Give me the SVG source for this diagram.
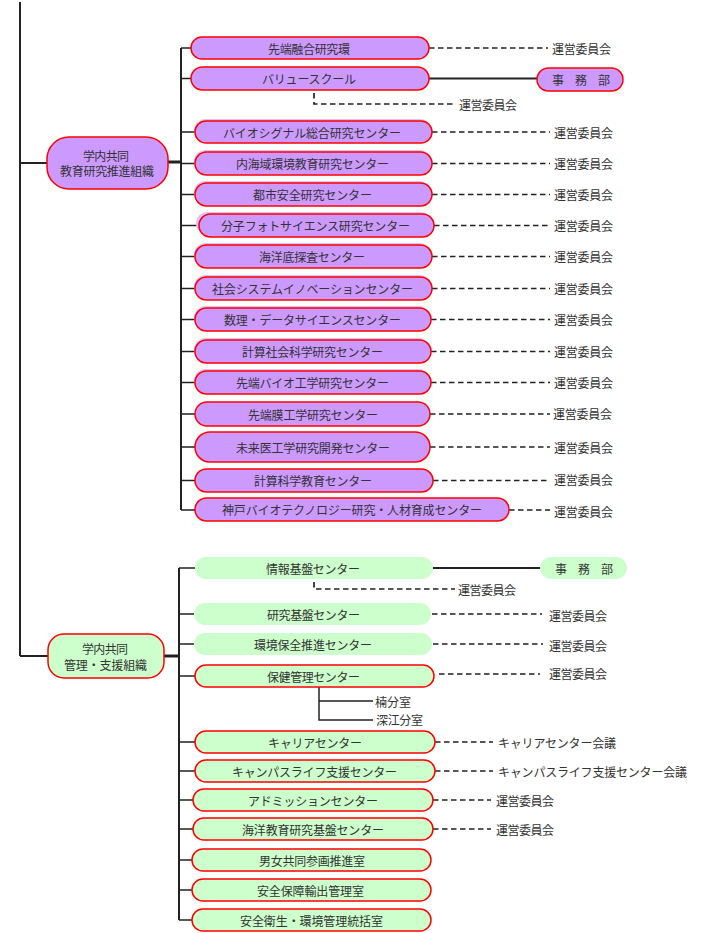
<svg xmlns="http://www.w3.org/2000/svg" width="710" height="933" viewBox="0 0 710 933">
<style>
.p{fill:#cc99ff;stroke:#ff0000;stroke-width:1.5}
.g{fill:#ccffcc;stroke:#ff0000;stroke-width:1.5}
.gn{fill:#ccffcc}
.sh{fill:#d9c2ff}
.t{font-family:"Noto Sans CJK JP","Noto Sans CJK SC",sans-serif;font-size:12px;fill:#333;text-anchor:middle;dominant-baseline:central}
.l{font-family:"Noto Sans CJK JP","Noto Sans CJK SC",sans-serif;font-size:12px;fill:#333;text-anchor:start;dominant-baseline:central}
.ln{stroke:#222;stroke-width:2;fill:none}
.tk{stroke:#222;stroke-width:1.5;fill:none}
.th{stroke:#222;stroke-width:3;fill:none}
.dl{stroke:#222;stroke-width:1.7;stroke-dasharray:5.5 3.5;fill:none}
</style>
<rect width="710" height="933" fill="#ffffff"/>
<g id="connectors">
<path class="ln" d="M20 2V656M20 163H47M20 656H48"/>
<path class="th" d="M168 162H181M164 656H179"/>
<path class="ln" d="M181 48V510M179 568V920"/>
<path class="tk" d="M181 48H191M181 78.5H191M181 132H195M181 163.5H195M181 194.5H195M181 225.5H199M181 256.5H195M181 288.5H195M181 319.5H195M181 351.5H195M181 382.5H195M181 414H195M181 447H195M181 480.5H195M181 510H195"/>
<path class="tk" d="M179 568H195M179 614H194M179 644H194M179 676H195M179 742H195M179 771H195M179 800H193M179 829H193M179 860H192M179 890H192M179 920H192"/>
<path class="ln" d="M429 78.5H537M433 568H540"/>
<path class="tk" d="M319 687V720H373M319 701H373"/>
<path class="dl" d="M429 48H548M314 93V104H455M432 132H550M432 163.5H550M432 194.5H550M434 225.5H550M432 256.5H550M432 288.5H550M431 319.5H550M431 351.5H550M431 382.5H550M430 414H550M430 447H550M433 480.5H550M509 510H550"/>
<path class="dl" d="M314 582V589H455M432 614H542M433 644H543M439 674H540M435 742H493M435 771H493M433 800H491M433 829H491"/>
</g>
<g id="org1">
<rect class="p" x="47" y="137" width="121" height="52" rx="22"/>
<text class="t" x="106" y="155" textLength="46">学内共同</text>
<text class="t" x="107" y="170.5" textLength="94">教育研究推進組織</text>
</g>
<g id="n1"><rect class="p" x="191" y="37" width="238" height="22" rx="11"/><text class="t" x="309" y="48" textLength="82">先端融合研究環</text></g>
<g id="n2"><rect class="p" x="191" y="67" width="238" height="23" rx="11.5"/><text class="t" x="309" y="78.5" textLength="94">バリュースクール</text></g>
<g id="n2a"><rect class="p" x="537" y="68" width="86" height="23" rx="11.5"/><text class="t" x="581" y="79.5" textLength="58">事 務 部</text></g>
<g id="n3"><rect class="sh" x="194" y="119" width="237" height="23" rx="11.5"/><rect class="p" x="195" y="121" width="237" height="22" rx="11"/><text class="t" x="312" y="132" textLength="178">バイオシグナル総合研究センター</text></g>
<g id="n4"><rect class="sh" x="194" y="150" width="237" height="23" rx="11.5"/><rect class="p" x="195" y="152" width="237" height="23" rx="11.5"/><text class="t" x="312.5" y="163.5" textLength="153">内海域環境教育研究センター</text></g>
<g id="n5"><rect class="sh" x="194" y="181" width="237" height="23" rx="11.5"/><rect class="p" x="195" y="183" width="237" height="23" rx="11.5"/><text class="t" x="312.5" y="194.5" textLength="119">都市安全研究センター</text></g>
<g id="n6"><rect class="sh" x="196" y="212" width="236" height="23" rx="11.5"/><rect class="p" x="199" y="214" width="235" height="23" rx="11.5"/><text class="t" x="315.5" y="225.5" textLength="189">分子フォトサイエンス研究センター</text></g>
<g id="n7"><rect class="sh" x="194" y="243" width="237" height="23" rx="11.5"/><rect class="p" x="195" y="245" width="237" height="23" rx="11.5"/><text class="t" x="312" y="256.5" textLength="106">海洋底探査センター</text></g>
<g id="n8"><rect class="sh" x="194" y="275" width="237" height="23" rx="11.5"/><rect class="p" x="195" y="277" width="237" height="23" rx="11.5"/><text class="t" x="312.5" y="288.5" textLength="201">社会システムイノベーションセンター</text></g>
<g id="n9"><rect class="sh" x="194" y="306" width="236" height="23" rx="11.5"/><rect class="p" x="195" y="308" width="236" height="23" rx="11.5"/><text class="t" x="312.5" y="319.5" textLength="177">数理・データサイエンスセンター</text></g>
<g id="n10"><rect class="sh" x="194" y="338" width="236" height="23" rx="11.5"/><rect class="p" x="195" y="340" width="236" height="23" rx="11.5"/><text class="t" x="312.5" y="351.5" textLength="141">計算社会科学研究センター</text></g>
<g id="n11"><rect class="sh" x="194" y="369" width="236" height="23" rx="11.5"/><rect class="p" x="195" y="371" width="236" height="23" rx="11.5"/><text class="t" x="312.5" y="382.5" textLength="153">先端バイオ工学研究センター</text></g>
<g id="n12"><rect class="p" x="195" y="402" width="235" height="24" rx="12"/><text class="t" x="313" y="414" textLength="130">先端膜工学研究センター</text></g>
<g id="n13"><rect class="p" x="195" y="432" width="235" height="30" rx="15"/><text class="t" x="313" y="447" textLength="154">未来医工学研究開発センター</text></g>
<g id="n14"><rect class="p" x="195" y="469" width="238" height="23" rx="11.5"/><text class="t" x="313" y="480.5" textLength="118">計算科学教育センター</text></g>
<g id="n15"><rect class="p" x="195" y="498" width="314" height="23" rx="11.5"/><text class="t" x="352" y="509.5" textLength="260">神戸バイオテクノロジー研究・人材育成センター</text></g>
<g id="labels1">
<text class="l" x="552" y="48" textLength="59">運営委員会</text>
<text class="l" x="459" y="104" textLength="58">運営委員会</text>
<text class="l" x="554" y="132" textLength="59">運営委員会</text>
<text class="l" x="554" y="163.5" textLength="59">運営委員会</text>
<text class="l" x="554" y="194.5" textLength="59">運営委員会</text>
<text class="l" x="554" y="225.5" textLength="59">運営委員会</text>
<text class="l" x="554" y="256.5" textLength="59">運営委員会</text>
<text class="l" x="554" y="288.5" textLength="59">運営委員会</text>
<text class="l" x="554" y="319.5" textLength="59">運営委員会</text>
<text class="l" x="554" y="351.5" textLength="59">運営委員会</text>
<text class="l" x="554" y="382.5" textLength="59">運営委員会</text>
<text class="l" x="553" y="413" textLength="59">運営委員会</text>
<text class="l" x="554" y="447" textLength="59">運営委員会</text>
<text class="l" x="554" y="479" textLength="59">運営委員会</text>
<text class="l" x="554" y="511" textLength="59">運営委員会</text>
</g>
<g id="org2">
<rect class="g" x="48" y="634" width="116" height="44" rx="16"/>
<text class="t" x="105" y="648" textLength="46">学内共同</text>
<text class="t" x="105.5" y="664" textLength="83">管理・支援組織</text>
</g>
<g id="m1"><rect class="gn" x="195" y="557" width="238" height="22" rx="11"/><text class="t" x="313" y="568" textLength="94">情報基盤センター</text></g>
<g id="m1a"><rect class="gn" x="540" y="557" width="87" height="22" rx="11"/><text class="t" x="584" y="568" textLength="58">事 務 部</text></g>
<g id="m2"><rect class="gn" x="194" y="603" width="237" height="22" rx="11"/><text class="t" x="313.5" y="614" textLength="93">研究基盤センター</text></g>
<g id="m3"><rect class="gn" x="194" y="633" width="238" height="22" rx="11"/><text class="t" x="313" y="644" textLength="118">環境保全推進センター</text></g>
<g id="m4"><rect class="g" x="195" y="665" width="239" height="22" rx="11"/><text class="t" x="313.5" y="676" textLength="93">保健管理センター</text></g>
<g id="m5"><rect class="g" x="195" y="731" width="240" height="22" rx="11"/><text class="t" x="315" y="742" textLength="94">キャリアセンター</text></g>
<g id="m6"><rect class="g" x="195" y="760" width="240" height="22" rx="11"/><text class="t" x="314.5" y="771" textLength="165">キャンパスライフ支援センター</text></g>
<g id="m7"><rect class="g" x="193" y="789" width="240" height="22" rx="11"/><text class="t" x="313" y="800" textLength="130">アドミッションセンター</text></g>
<g id="m8"><rect class="g" x="193" y="818" width="240" height="22" rx="11"/><text class="t" x="313" y="829" textLength="142">海洋教育研究基盤センター</text></g>
<g id="m9"><rect class="g" x="192" y="849" width="239" height="22" rx="11"/><text class="t" x="312" y="860" textLength="106">男女共同参画推進室</text></g>
<g id="m10"><rect class="g" x="192" y="879" width="239" height="22" rx="11"/><text class="t" x="310.5" y="890" textLength="107">安全保障輸出管理室</text></g>
<g id="m11"><rect class="g" x="192" y="909" width="239" height="22" rx="11"/><text class="t" x="311.5" y="920" textLength="143">安全衛生・環境管理統括室</text></g>
<g id="labels2">
<text class="l" x="458" y="589" textLength="58">運営委員会</text>
<text class="l" x="549" y="615" textLength="58">運営委員会</text>
<text class="l" x="549" y="645" textLength="58">運営委員会</text>
<text class="l" x="549" y="673" textLength="58">運営委員会</text>
<text class="l" x="375" y="701.5" textLength="36">楠分室</text>
<text class="l" x="376" y="719" textLength="47">深江分室</text>
<text class="l" x="498" y="742" textLength="118">キャリアセンター会議</text>
<text class="l" x="498" y="771.5" textLength="189">キャンパスライフ支援センター会議</text>
<text class="l" x="496" y="800.5" textLength="58">運営委員会</text>
<text class="l" x="496" y="829.5" textLength="58">運営委員会</text>
</g>
</svg>
